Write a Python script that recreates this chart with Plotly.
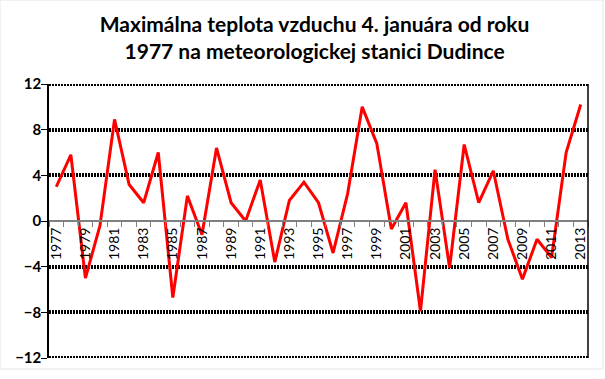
import plotly.graph_objects as go

years = [str(y) for y in range(1977, 2014)]
tmax = [3.0, 5.8, -5.0, -0.4, 8.9, 3.2, 1.6, 6.0, -6.7, 2.2, -1.2, 6.4, 1.6,
        0.0, 3.6, -3.6, 1.8, 3.4, 1.6, -2.8, 2.4, 10.0, 6.8, -0.7, 1.6,
        -7.9, 4.5, -4.1, 6.7, 1.6, 4.4, -1.6, -5.1, -1.6, -3.2, 6.0, 10.2]
year_labels = [y if i % 2 == 0 else "" for i, y in enumerate(years)]
y_ticks = [-12, -8, -4, 0, 4, 8, 12]
title = "Maximálna teplota vzduchu 4. januára od roku<br>1977 na meteorologickej stanici Dudince"

fig = go.Figure()
fig.add_trace(go.Scatter(x=years, y=tmax, mode="lines",
                         line=dict(color="#FF0000", width=3)))

fig.update_layout(
    width=605, height=379,
    margin=dict(l=49, r=17, t=84, b=21),
    paper_bgcolor="white", plot_bgcolor="white",
    showlegend=False,
    title=dict(text=title, x=0.52, xanchor="center", yref="container",
               y=1 - 32 / 379, yanchor="middle",
               font=dict(family="Lato", size=21, color="black", weight="bold")),
    xaxis=dict(type="category", tickmode="array", tickvals=years, ticktext=year_labels,
               tickangle=-90, tickson="boundaries", ticks="outside", ticklen=5,
               tickcolor="#808080", showline=True, linecolor="#808080", linewidth=2,
               showgrid=False, anchor="free", position=0.5,
               tickfont=dict(family="Lato", size=14, color="black"),
               range=[-0.5, 36.5]),
    yaxis=dict(range=[-12, 12], tickvals=y_ticks, ticks="outside", ticklen=6,
               tickcolor="black", showline=True, linecolor="black", linewidth=1.5,
               showgrid=True, gridcolor="black", gridwidth=4, griddash="2px,1px",
               zeroline=True, zerolinecolor="#808080", zerolinewidth=2,
               ticklabelstandoff=-3,
               tickfont=dict(family="Lato", size=15, color="black", weight="bold")),
)
# gridlines at the range edges (plotly omits them there)
for yv in (y_ticks[0], y_ticks[-1]):
    fig.add_shape(type="line", xref="x domain", yref="y", x0=0, x1=1, y0=yv, y1=yv,
                  line=dict(color="black", width=4, dash="2px,1px"), layer="below")
fig.add_shape(type="line", xref="x domain", yref="y domain", x0=1, x1=1, y0=0, y1=1,
              line=dict(color="black", width=1.5))
fig.add_shape(type="rect", xref="paper", yref="paper",
              x0=-49/539, x1=(603-49)/539, y0=-(369-358)/274, y1=1+84/274,
              line=dict(color="#e6e6e6", width=1), layer="below")
fig.write_html("out.html", config={"displayModeBar": False},
               post_script="document.body.style.margin='0';document.body.style.overflow='hidden';")
